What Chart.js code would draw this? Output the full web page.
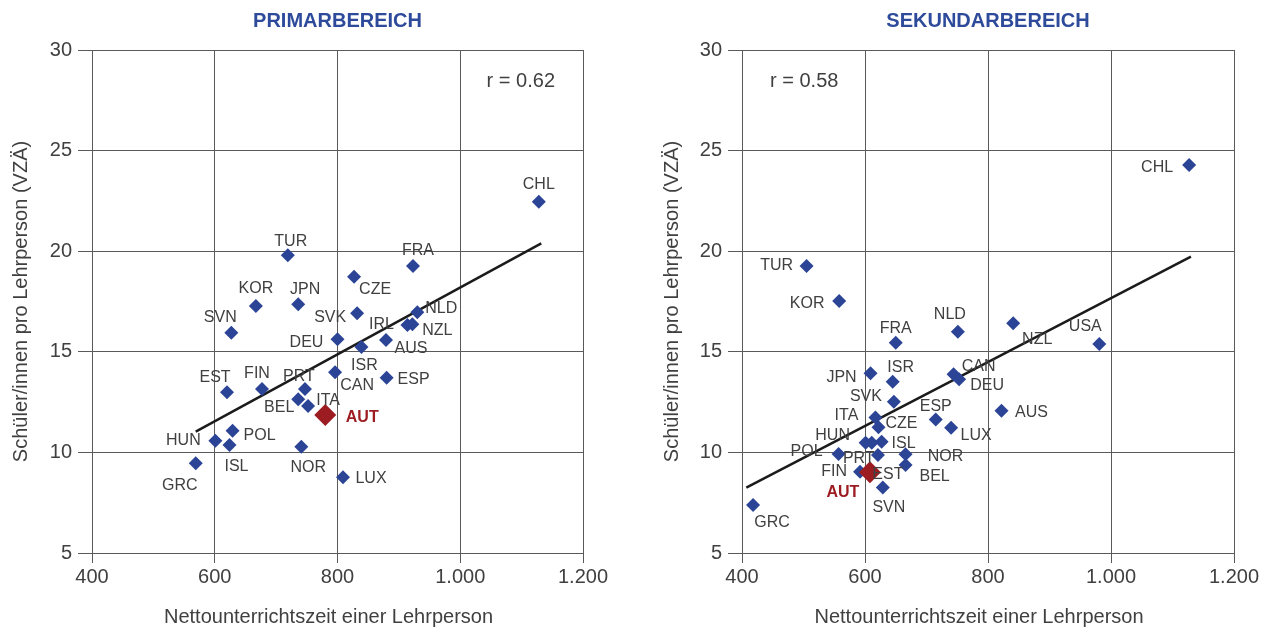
<!DOCTYPE html>
<html lang="de">
<head>
<meta charset="utf-8">
<title>Nettounterrichtszeit und Schüler/innen pro Lehrperson</title>
<script src="https://cdn.jsdelivr.net/npm/chart.js@4.4.1/dist/chart.umd.min.js"></script>
<style>
  body { margin: 0; background: #fff; width: 1271px; height: 630px; overflow: hidden; position: relative; }
  .panel { position: absolute; top: 0; height: 630px; }
  #left { left: 0; width: 636px; }
  #right { left: 636px; width: 635px; }
</style>
</head>
<body>
<div class="panel" id="left"><canvas id="primChart" width="636" height="630"></canvas></div>
<div class="panel" id="right"><canvas id="sekChart" width="635" height="630"></canvas></div>
<script>
// Axis ticks
const xTicks = [400, 600, 800, 1000, 1200];
const xTickLabels = ['400', '600', '800', '1.000', '1.200'];
const yTicks = [5, 10, 15, 20, 25, 30];

// Primarbereich
const primCountries = ['CHL','TUR','FRA','CZE','KOR','JPN','SVK','NLD','IRL','NZL','SVN','DEU','AUS','ISR','CAN','ESP','EST','FIN','PRT','BEL','ITA','AUT','POL','HUN','ISL','NOR','GRC','LUX'];
const primX = [1128, 719, 923, 827, 667, 736, 832, 930, 914, 922, 627, 800, 879, 839, 796, 880, 620, 677, 747, 736, 752, 780, 629, 601, 624, 741, 569, 809];
const primY = [22.46, 19.8, 19.26, 18.73, 17.28, 17.36, 16.91, 16.96, 16.33, 16.37, 15.95, 15.62, 15.59, 15.24, 13.98, 13.71, 12.99, 13.15, 13.15, 12.64, 12.31, 11.86, 11.08, 10.58, 10.37, 10.28, 9.46, 8.76];
const primTrendX = [569, 1132];
const primTrendY = [11.03, 20.39];

// Sekundarbereich
const sekCountries = ['CHL','TUR','KOR','USA','NZL','NLD','FRA','JPN','ISR','CAN','DEU','SVK','AUS','ESP','ITA','LUX','CZE','HUN','PRT','ISL','POL','EST','NOR','BEL','FIN','AUT','SVN','GRC'];
const sekX = [1127, 505, 558, 981, 841, 751, 650, 609, 645, 744, 753, 647, 822, 715, 617, 740, 622, 601, 611, 627, 557, 621, 666, 666, 592, 608, 629, 418];
const sekY = [24.28, 19.26, 17.52, 15.39, 16.42, 16.0, 15.45, 13.93, 13.51, 13.88, 13.63, 12.52, 12.07, 11.64, 11.74, 11.23, 11.25, 10.48, 10.48, 10.53, 9.92, 9.87, 9.91, 9.37, 9.04, 9.01, 8.25, 7.39];
const sekTrendX = [407, 1130];
const sekTrendY = [8.25, 19.73];

// Label placement (pixel offset from the marker)
const primLabelPos = {
  CHL: [0, -17], TUR: [3, -14], FRA: [5, -15], CZE: [21, 13], KOR: [0, -17], JPN: [7, -15],
  SVK: [-27, 4], NLD: [24, -4], IRL: [-26, 0], NZL: [25, 6], SVN: [-11, -15], DEU: [-31, 3],
  AUS: [25, 9], ISR: [3, 19], CAN: [22, 13], ESP: [27, 2], EST: [-12, -15], FIN: [-5, -15],
  PRT: [-6, -12], BEL: [-19, 8], ITA: [20, -5], AUT: [37, 3], POL: [27, 5], HUN: [-32, 0],
  ISL: [7, 22], NOR: [7, 21], GRC: [-16, 22], LUX: [28, 1]
};
const sekLabelPos = {
  CHL: [-32, 3], TUR: [-30, 0], KOR: [-32, 2], USA: [-14, -17], NZL: [24, 16], NLD: [-8, -17],
  FRA: [0, -14], JPN: [-29, 4], ISR: [8, -14], CAN: [25, -8], DEU: [28, 6], SVK: [-28, -5],
  AUS: [30, 2], ESP: [0, -13], ITA: [-29, -2], LUX: [25, 8], CZE: [23, -4], HUN: [-33, -7],
  PRT: [-13, 16], ISL: [22, 2], POL: [-32, -2], EST: [10, 20], NOR: [40, 2], BEL: [29, 12],
  FIN: [-26, 0], AUT: [-27, 20], SVN: [6, 20], GRC: [19, 18]
};

const FONT = '"Liberation Sans", Arial, Helvetica, sans-serif';
const blue = '#2b4496';
const autRed = '#9c1c22';
const titleBlue = '#2e4b9b';
const textGrey = '#404040';
const gridGrey = '#5a5a5a';

// Draws country labels, panel title, x axis title and the r value
function makeAnnotator(names, labelPos, title, rText, rAlign) {
  return {
    id: 'annotate',
    afterDatasetsDraw(chart) {
      const { ctx, chartArea } = chart;
      const meta = chart.getDatasetMeta(0);
      const midX = (chartArea.left + chartArea.right) / 2;
      ctx.save();
      ctx.textAlign = 'center';
      ctx.textBaseline = 'middle';
      meta.data.forEach((pt, i) => {
        const name = names[i];
        const off = labelPos[name] || [0, -15];
        const isAut = name === 'AUT';
        ctx.font = (isAut ? 'bold ' : '') + '16px ' + FONT;
        ctx.fillStyle = isAut ? autRed : textGrey;
        ctx.fillText(name, pt.x + off[0], pt.y + off[1]);
      });

      ctx.font = 'bold 20px ' + FONT;
      ctx.fillStyle = titleBlue;
      ctx.fillText(title, midX, 21);

      ctx.font = '20px ' + FONT;
      ctx.fillStyle = textGrey;
      ctx.fillText('Nettounterrichtszeit einer Lehrperson', midX - 9, 617);

      ctx.textAlign = rAlign;
      const rx = rAlign === 'right' ? chartArea.right - 28 : chartArea.left + 28;
      ctx.fillText(rText, rx, 81);
      ctx.restore();
    }
  };
}

function makeChart(canvasId, cfg) {
  const ctx = document.getElementById(canvasId).getContext('2d');
  const points = cfg.xs.map((x, i) => ({ x: x, y: cfg.ys[i] }));
  const trend = cfg.trendX.map((x, i) => ({ x: x, y: cfg.trendY[i] }));

  return new Chart(ctx, {
    type: 'scatter',
    data: {
      datasets: [{
        label: cfg.title,
        data: points,
        pointStyle: 'rectRot',
        pointRadius: c => cfg.names[c.dataIndex] === 'AUT' ? 11 : 7,
        pointBackgroundColor: c => cfg.names[c.dataIndex] === 'AUT' ? autRed : blue,
        pointBorderWidth: 0,
        pointBorderColor: 'transparent'
      }, {
        type: 'line',
        label: 'Trend',
        data: trend,
        borderColor: '#1b1b1b',
        borderWidth: 2.5,
        pointRadius: 0,
        fill: false
      }]
    },
    options: {
      responsive: false,
      animation: false,
      layout: { padding: cfg.padding },
      plugins: {
        legend: { display: false },
        tooltip: { enabled: false }
      },
      scales: {
        x: {
          type: 'linear',
          min: 400,
          max: 1200,
          afterBuildTicks: scale => { scale.ticks = xTicks.map(v => ({ value: v })); },
          afterFit: scale => { scale.height = 77; },
          ticks: {
            padding: 2,
            color: textGrey,
            font: { family: FONT, size: 20 },
            callback: value => xTickLabels[xTicks.indexOf(value)]
          },
          grid: { color: gridGrey, lineWidth: 1, tickLength: 10 },
          border: { color: gridGrey, width: 1 },
          title: { display: false }
        },
        y: {
          type: 'linear',
          min: 5,
          max: 30,
          afterBuildTicks: scale => { scale.ticks = yTicks.map(v => ({ value: v })); },
          afterFit: scale => { scale.width = cfg.yWidth; },
          ticks: {
            padding: 6,
            color: textGrey,
            font: { family: FONT, size: 20 }
          },
          grid: { color: gridGrey, lineWidth: 1, tickLength: 14 },
          border: { color: gridGrey, width: 1 },
          title: {
            display: true,
            text: 'Schüler/innen pro Lehrperson (VZÄ)',
            color: textGrey,
            font: { family: FONT, size: 20 },
            padding: { top: 9, bottom: 0 }
          }
        }
      }
    },
    plugins: [makeAnnotator(cfg.names, cfg.labelPos, cfg.title, cfg.rText, cfg.rAlign)]
  });
}

makeChart('primChart', {
  title: 'PRIMARBEREICH',
  names: primCountries, xs: primX, ys: primY,
  trendX: primTrendX, trendY: primTrendY,
  labelPos: primLabelPos,
  rText: 'r = 0.62', rAlign: 'right',
  yWidth: 92,
  padding: { top: 50, right: 53, bottom: 0, left: 0 }
});

makeChart('sekChart', {
  title: 'SEKUNDARBEREICH',
  names: sekCountries, xs: sekX, ys: sekY,
  trendX: sekTrendX, trendY: sekTrendY,
  labelPos: sekLabelPos,
  rText: 'r = 0.58', rAlign: 'left',
  yWidth: 91,
  padding: { top: 50, right: 37, bottom: 0, left: 15 }
});
</script>
</body>
</html>
